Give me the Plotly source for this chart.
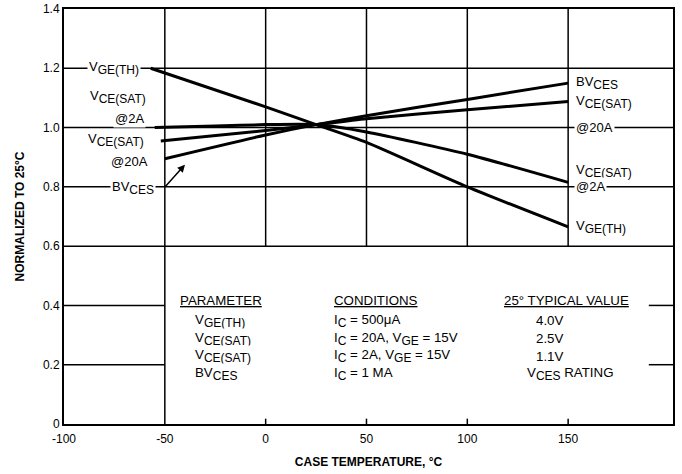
import plotly.graph_objects as go

# ---- data ----
vge_th_x = [-57, 0, 25, 50, 100, 150]
vge_th_y = [1.20, 1.07, 1.01, 0.95, 0.80, 0.665]

vce_2a_x = [-55, -25, 0, 25, 50, 100, 150]
vce_2a_y = [1.0, 1.005, 1.01, 1.01, 0.985, 0.91, 0.815]

vce_20a_x = [-52, 0, 25, 50, 100, 150]
vce_20a_y = [0.955, 0.99, 1.01, 1.03, 1.06, 1.088]

bvces_x = [-50, 0, 25, 50, 100, 150]
bvces_y = [0.895, 0.975, 1.01, 1.04, 1.095, 1.15]

x_ticks = [-100, -50, 0, 50, 100, 150]
x_tick_text = ["-100", "-50", "0", "50", "100", "150"]
y_ticks = [0, 0.2, 0.4, 0.6, 0.8, 1.0, 1.2, 1.4]
y_tick_text = ["0", "0.2", "0.4", "0.6", "0.8", "1.0", "1.2", "1.4"]

def S(txt):
    return "<sub><span style='font-size:12px'>" + txt + "</span></sub>"

table_header = ["PARAMETER", "CONDITIONS", "25° TYPICAL VALUE"]
table_params = ["V" + S("GE(TH)"), "V" + S("CE(SAT)"), "V" + S("CE(SAT)"), "BV" + S("CES")]
table_conditions = ["I" + S("C") + " = 500μA", "I" + S("C") + " = 20A, V" + S("GE") + " = 15V",
                    "I" + S("C") + " = 2A, V" + S("GE") + " = 15V", "I" + S("C") + " = 1 MA"]
table_values = ["4.0V", "2.5V", "1.1V", "V" + S("CES") + " RATING"]

FONT = "Liberation Sans, Arial, Helvetica, sans-serif"
XMIN, XMAX = -100, 202

fig = go.Figure()
for xs, ys in [(vge_th_x, vge_th_y), (vce_2a_x, vce_2a_y), (vce_20a_x, vce_20a_y), (bvces_x, bvces_y)]:
    fig.add_trace(go.Scatter(x=xs, y=ys, mode="lines",
                             line=dict(color="black", width=3, shape="spline", smoothing=0.6),
                             showlegend=False, hoverinfo="skip"))

shapes = []
GL = dict(color="black", width=1.5)
for yv in [0.6, 0.8, 1.0, 1.2]:
    shapes.append(dict(type="line", xref="x", yref="y", x0=XMIN, x1=XMAX, y0=yv, y1=yv, line=GL, layer="below"))
for yv in [0.2, 0.4]:
    shapes.append(dict(type="line", xref="x", yref="y", x0=XMIN, x1=-50, y0=yv, y1=yv, line=GL, layer="below"))
    shapes.append(dict(type="line", xref="x", yref="y", x0=190, x1=XMAX, y0=yv, y1=yv, line=GL, layer="below"))
shapes.append(dict(type="line", xref="x", yref="y", x0=-50, x1=-50, y0=0, y1=1.4, line=GL, layer="below"))
for xv in [0, 50, 100, 150]:
    shapes.append(dict(type="line", xref="x", yref="y", x0=xv, x1=xv, y0=0.6, y1=1.4, line=GL, layer="below"))
    shapes.append(dict(type="line", xref="x", yref="y", x0=xv, x1=xv, y0=0, y1=0.018, line=GL, layer="below"))

ann = []
def lab(x, y, text, xanchor="center", size=13):
    ann.append(dict(x=x, y=y, xref="x", yref="y", text=text, showarrow=False, xanchor=xanchor,
                    yanchor="middle", font=dict(family=FONT, size=size, color="black"),
                    bgcolor="white", borderpad=1))

# left labels
lab(-75, 1.20, "V" + S("GE(TH)"))
lab(-73, 1.103, "V" + S("CE(SAT)"))
lab(-67.5, 1.032, "@2A")
lab(-74, 0.958, "V" + S("CE(SAT)"))
lab(-67.5, 0.887, "@20A")
lab(-66, 0.795, "BV" + S("CES"))
# right labels
lab(153, 1.152, "BV" + S("CES"), "left")
lab(153, 1.085, "V" + S("CE(SAT)"), "left")
lab(153, 1.0, "@20A", "left")
lab(153, 0.855, "V" + S("CE(SAT)"), "left")
lab(153, 0.8, "@2A", "left")
lab(153, 0.663, "V" + S("GE(TH)"), "left")

# arrow
ann.append(dict(x=-40, y=0.875, xref="x", yref="y", ax=-50.5, ay=0.795, axref="x", ayref="y",
                text="", showarrow=True, arrowhead=2, arrowsize=1, arrowwidth=1.5, arrowcolor="black"))

# table
col_x = [-43.5, 33, 117]
for cx, h in zip(col_x, table_header):
    lab(cx, 0.418, "<u>" + h + "</u>", "left", 13.3)
row_y = [0.349, 0.288, 0.228, 0.170]
for ry, p, c, v in zip(row_y, table_params, table_conditions, table_values):
    lab(-36, ry, p, "left", 13.3)
    lab(33, ry, c, "left", 13.3)
    lab(128.5 if v.startswith("V") else 133, ry, v, "left", 13.3)

fig.update_layout(
    width=682, height=474,
    margin=dict(l=64, r=9, t=9, b=50),
    paper_bgcolor="white", plot_bgcolor="white",
    shapes=shapes, annotations=ann,
    font=dict(family=FONT, size=12, color="black"),
    xaxis=dict(range=[XMIN, XMAX], tickvals=x_ticks, ticktext=x_tick_text, showgrid=False, zeroline=False,
               showline=True, linecolor="black", linewidth=2, mirror=True, ticks="", automargin=False,
               tickfont=dict(size=12), ticklabelstandoff=3,
               title=dict(text="<b>CASE TEMPERATURE, °C</b>", font=dict(size=12), standoff=12)),
    yaxis=dict(range=[0, 1.4], tickvals=y_ticks, ticktext=y_tick_text, showgrid=False, zeroline=False,
               showline=True, linecolor="black", linewidth=2, mirror=True, ticks="", automargin=False,
               tickfont=dict(size=12),
               title=dict(text="<b>NORMALIZED TO 25°C</b>", font=dict(size=12), standoff=16)),
)

fig.write_html("out.html", config={"displayModeBar": False},
               post_script="document.body.style.margin='0';")
